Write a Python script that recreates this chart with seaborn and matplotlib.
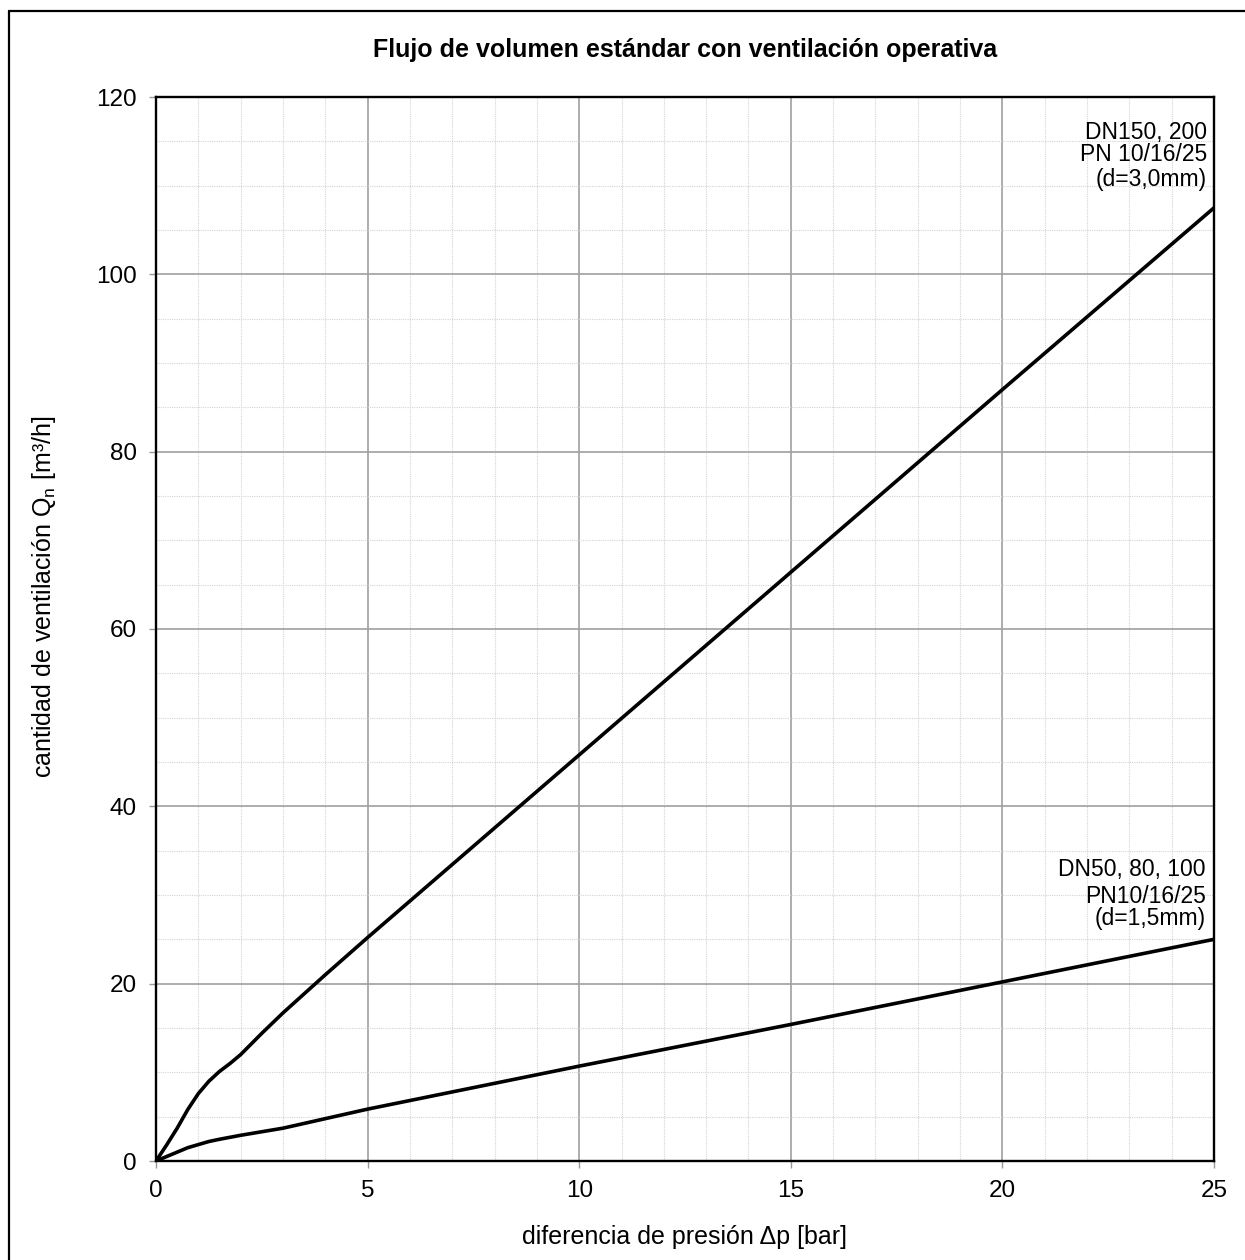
import matplotlib
matplotlib.use("Agg")
import matplotlib.pyplot as plt
from matplotlib.lines import Line2D
from matplotlib.ticker import MultipleLocator
import seaborn as sns
import pandas as pd

# ---- data ----
x_large = [0, 0.25, 0.5, 0.75, 1.0, 1.25, 1.5, 1.75, 2, 2.5, 3, 4, 5, 10, 15, 20, 25]
y_large = [0, 1.8, 3.7, 5.8, 7.6, 9.0, 10.1, 11.0, 12.0, 14.4, 16.7, 21.0, 25.2, 45.8, 66.4, 87.0, 107.5]

x_small = [0, 0.25, 0.5, 0.75, 1.0, 1.25, 1.5, 2, 3, 5, 10, 15, 20, 25]
y_small = [0, 0.5, 1.0, 1.5, 1.85, 2.2, 2.45, 2.9, 3.7, 5.85, 10.7, 15.4, 20.2, 25.0]

series_names = ["DN150, 200", "DN50, 80, 100"]
label_large = ["DN150, 200", "PN 10/16/25", "(d=3,0mm)"]
label_small = ["DN50, 80, 100", "PN10/16/25", "(d=1,5mm)"]

title = "Flujo de volumen estándar con ventilación operativa"
xlabel = "diferencia de presión \u0394p [bar]"
ylabel = "cantidad de ventilación Q$_\\mathrm{n}$ [m³/h]"

df = pd.concat([
    pd.DataFrame({"dp": x_large, "Q": y_large, "serie": series_names[0]}),
    pd.DataFrame({"dp": x_small, "Q": y_small, "serie": series_names[1]}),
], ignore_index=True)

sns.set_theme(style="white")
plt.rcParams["font.family"] = ["Liberation Sans", "DejaVu Sans"]
plt.rcParams["mathtext.fontset"] = "custom"
plt.rcParams["mathtext.rm"] = "Liberation Sans"
plt.rcParams["mathtext.it"] = "Liberation Sans:italic"

W, H = 1245, 1260
fig = plt.figure(figsize=(W / 100, H / 100), dpi=100)
L, R, T, B = 156, 1214, 97, 1161
ax = fig.add_axes([L / W, 1 - B / H, (R - L) / W, (B - T) / H])

sns.lineplot(data=df, x="dp", y="Q", hue="serie", palette=["black", "black"],
             sort=False, estimator=None, linewidth=2.6, legend=False, ax=ax)
for ln in ax.get_lines():
    ln.set_solid_joinstyle("round")
    ln.set_solid_capstyle("round")

ax.set_xlim(0, 25)
ax.set_ylim(0, 120)
ax.xaxis.set_major_locator(MultipleLocator(5))
ax.xaxis.set_minor_locator(MultipleLocator(1))
ax.yaxis.set_major_locator(MultipleLocator(20))
ax.yaxis.set_minor_locator(MultipleLocator(5))

ax.grid(which="major", color="#a0a0a0", linewidth=1.2, linestyle="-")
ax.grid(which="minor", color="#d4d4d4", linewidth=0.8, linestyle=(0, (1, 1)))
ax.set_axisbelow(True)

for sp in ax.spines.values():
    sp.set_visible(True)
    sp.set_color("black")
    sp.set_linewidth(1.7)

ax.tick_params(which="major", direction="out", length=5, width=1.0, color="#999999",
               labelsize=17.5, labelcolor="black", pad=9)
ax.tick_params(which="minor", length=0)
ax.tick_params(axis="x", bottom=True)
ax.tick_params(axis="y", left=True)

ax.set_xlabel(xlabel, fontsize=18, color="black")
ax.set_ylabel(ylabel, fontsize=18, color="black")
ax.xaxis.label.set_va("center")
ax.yaxis.label.set_va("center")
ax.xaxis.set_label_coords(0.5, (B - 1237) / (B - T))
ax.yaxis.set_label_coords((44 - L) / (R - L), (B - 597) / (B - T))

ax.text(0.5, (B - 50) / (B - T), title, transform=ax.transAxes, ha="center", va="center",
        fontsize=18, fontweight="bold", color="black")

ys_large = [115.3, 112.8, 110.0]
ys_small = [32.1, 29.1, 26.6]
for t, yy in zip(label_large, ys_large):
    ax.text(24.83, yy, t, ha="right", va="baseline", fontsize=16.5, color="black")
for t, yy in zip(label_small, ys_small):
    ax.text(24.8, yy, t, ha="right", va="baseline", fontsize=16.5, color="black")

# outer frame (top and left edges visible in reference)
fig.add_artist(Line2D([9 / W, 1.0], [1 - 11 / H, 1 - 11 / H], transform=fig.transFigure,
                      color="black", linewidth=1.6))
fig.add_artist(Line2D([9 / W, 9 / W], [1 - 11 / H, 0.0], transform=fig.transFigure,
                      color="black", linewidth=1.6))

fig.savefig("out.png", dpi=100, facecolor="white")
